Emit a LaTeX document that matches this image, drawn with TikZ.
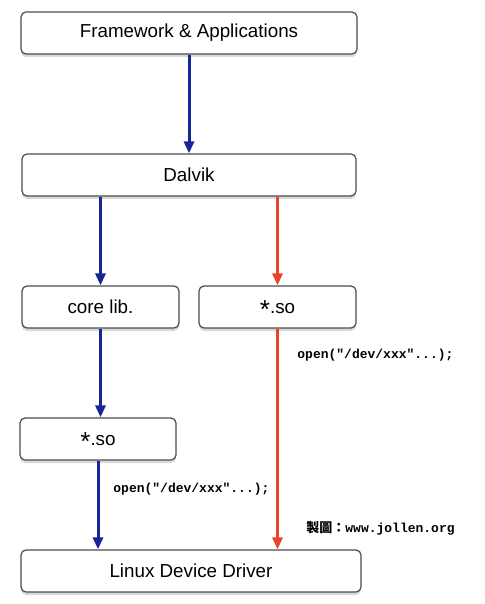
\documentclass[tikz,border=0pt]{standalone}
\usepackage{fontspec}
\setmainfont{Liberation Sans}
\setmonofont{Liberation Mono}
\newfontfamily\cjkfont{Noto Sans CJK TC}
\usepackage{tikz}
\usetikzlibrary{arrows.meta,positioning,shadows}

\definecolor{callblue}{RGB}{22,38,150}
\definecolor{callred}{RGB}{232,68,40}

% centred asterisk as in the drawing
\newcommand{\soast}{\vphantom{l}\raisebox{-0.5ex}[0pt][0pt]{\fontsize{13}{13}\selectfont *}}

\tikzset{
  layer/.style={draw=black!70, fill=white, rounded corners=2.5pt, line width=0.6pt,
    minimum height=21pt, inner sep=0pt, font=\fontsize{9.4}{11}\selectfont,
    drop shadow={shadow xshift=0pt, shadow yshift=-1.5pt, opacity=0.3}},
  bluecall/.style={line width=1.5pt, draw=callblue, -{Triangle[length=6pt,width=5pt]}},
  redcall/.style={line width=1.5pt, draw=callred, -{Triangle[length=6pt,width=5pt]}},
  syscall/.style={font=\fontsize{6.5}{8}\selectfont\ttfamily\bfseries, anchor=west, inner sep=0pt}
}

\begin{document}
\begin{tikzpicture}[x=0.5pt,y=-0.5pt]
\useasboundingbox (0,0) rectangle (485,604);
%draw layers
\node (fw) [layer, minimum width=168pt] at (189,33) {Framework \& Applications};
\node (dalvik) [layer, minimum width=167pt] at (189,175) {Dalvik};
\node (corelib) [layer, minimum width=78.5pt] at (100.5,307) {core lib.};
\node (soright) [layer, minimum width=78.5pt] at (277.5,307) {\soast.so};
\node (soleft) [layer, minimum width=78pt] at (98,439) {\soast.so};
\node (driver) [layer, minimum width=170pt] at (191,571) {Linux Device Driver};
% blue path: through core lib.
\draw [bluecall] (fw) -- (dalvik);
\draw [bluecall] (corelib.north |- dalvik.south) -- (corelib);
\draw [bluecall] (corelib.south) -- (corelib.south |- soleft.north);
\draw [bluecall] (soleft.south) -- (soleft.south |- driver.north);
% red path: straight to *.so
\draw [redcall] (soright.north |- dalvik.south) -- (soright);
\draw [redcall] (soright.south) -- (soright.south |- driver.north);
% system calls
\node (openright) [syscall] at (297,355) {open("/dev/xxx"...);};
\node (openleft) [syscall] at (113,489) {open("/dev/xxx"...);};
\node (credit) [syscall] at (306,528) {{\cjkfont 製圖：}www.jollen.org};
\end{tikzpicture}
\end{document}
